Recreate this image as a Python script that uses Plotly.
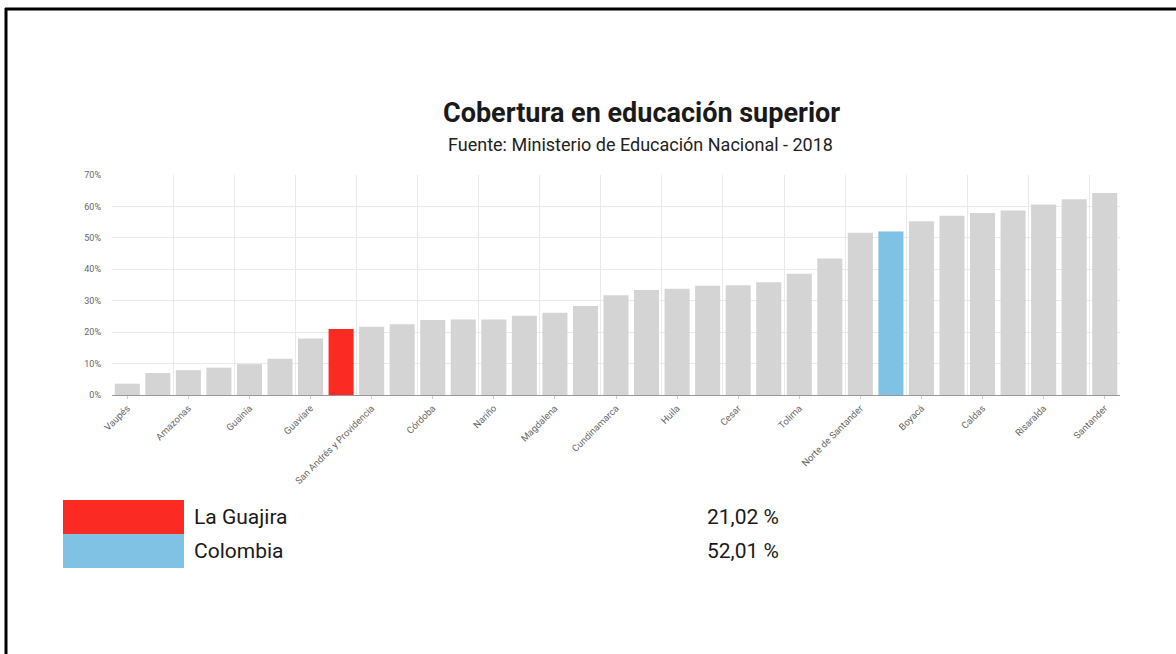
import plotly.graph_objects as go

# ---------------- data ----------------
departamentos = [
    "Vaupés", "Vichada", "Amazonas", "Putumayo", "Guainía", "Caquetá",
    "Guaviare", "La Guajira", "San Andrés y Providencia", "Arauca", "Córdoba",
    "Chocó", "Nariño", "Casanare", "Magdalena", "Sucre", "Cundinamarca",
    "Cauca", "Huila", "Meta", "Cesar", "Bolívar", "Tolima", "Valle del Cauca",
    "Norte de Santander", "Colombia", "Boyacá", "Atlántico", "Caldas",
    "Antioquia", "Risaralda", "Quindío", "Santander",
]
cobertura = [
    3.6, 7.0, 7.9, 8.7, 9.8, 11.5,
    18.0, 21.02, 21.7, 22.5, 23.9,
    24.0, 24.0, 25.2, 26.2, 28.3, 31.7,
    33.4, 33.8, 34.8, 34.9, 35.9, 38.6, 43.4,
    51.6, 52.01, 55.3, 57.0, 57.9,
    58.7, 60.6, 62.3, 64.3,
]
destacados = ["La Guajira", "Colombia"]
destacados_valores = ["21,02 %", "52,01 %"]
y_ticks = [0, 10, 20, 30, 40, 50, 60, 70]

titulo = "Cobertura en educación superior"
subtitulo = "Fuente: Ministerio de Educación Nacional - 2018"

# ---------------- styles ----------------
GRIS = "#d4d4d4"
ROJO = "#fb2a22"
AZUL = "#80c2e3"
color_dest = {"La Guajira": ROJO, "Colombia": AZUL}
colores = [color_dest.get(d, GRIS) for d in departamentos]

W, H = 1176, 654
# plot area in screen pixels (body margin removed below)
L, R, T, B = 112, 1120, 175, 395


def px(x):
    return (x - L) / (R - L)


def py(y):
    return (B - y) / (B - T)


idx = list(range(len(departamentos)))

fig = go.Figure(
    go.Bar(
        x=idx,
        y=cobertura,
        marker=dict(color=colores, line=dict(width=0)),
        hovertext=departamentos,
        hoverinfo="text+y",
    )
)

grid_pos = [-0.5] + [i + 0.5 for i in idx[1::2]]

fig.update_layout(
    width=W,
    height=H,
    margin=dict(l=L, r=W - R, t=T, b=H - B, pad=0),
    paper_bgcolor="white",
    plot_bgcolor="white",
    bargap=0.18,
    showlegend=False,
    font=dict(family="Roboto, Arial, sans-serif", color="#222"),
)

fig.update_xaxes(
    range=[-0.5, len(idx) - 0.5],
    tickmode="array",
    tickvals=idx[::2],
    ticktext=departamentos[::2],
    tickangle=-45,
    tickfont=dict(size=9.5, color="#666666"),
    ticks="outside",
    ticklen=3,
    tickcolor="#cccccc",
    showgrid=False,
    showline=True,
    linecolor="#999999",
    linewidth=1,
    zeroline=False,
    minor=dict(tickmode="array", tickvals=grid_pos, showgrid=True,
               gridcolor="#e9e9e9", gridwidth=1, ticks=""),
)
fig.update_yaxes(
    range=[0, 70],
    tickmode="array",
    tickvals=y_ticks,
    ticktext=[f"{v}%" for v in y_ticks],
    tickfont=dict(size=9, color="#666666"),
    showgrid=True,
    gridcolor="#e9e9e9",
    zeroline=False,
    ticks="",
    ticklabelstandoff=10,
)

# title & subtitle
fig.add_annotation(text=f"<b>{titulo}</b>", xref="paper", yref="paper",
                   x=px(641), y=py(113), showarrow=False,
                   font=dict(size=27, color="#1a1a1a"), xanchor="center", yanchor="middle")
fig.add_annotation(text=subtitulo, xref="paper", yref="paper",
                   x=px(640), y=py(144), showarrow=False,
                   font=dict(size=18, color="#222"), xanchor="center", yanchor="middle")

# legend block below the chart
row_top = [500, 534]
row_h = 34
for nombre, valor, top in zip(destacados, destacados_valores, row_top):
    fig.add_shape(type="rect", xref="paper", yref="paper",
                  x0=px(63), x1=px(184), y0=py(top), y1=py(top + row_h),
                  fillcolor=color_dest[nombre], line=dict(width=0), layer="above")
    fig.add_annotation(text=nombre, xref="paper", yref="paper",
                       x=px(192), y=py(top + row_h / 2), showarrow=False,
                       xanchor="left", yanchor="middle",
                       font=dict(size=21, color="#1a1a1a"))
    fig.add_annotation(text=valor, xref="paper", yref="paper",
                       x=px(705), y=py(top + row_h / 2), showarrow=False,
                       xanchor="left", yanchor="middle",
                       font=dict(size=21, color="#1a1a1a"))

# outer frame (top & left edges visible)
fig.add_shape(type="line", xref="paper", yref="paper",
              x0=px(5), x1=px(1200), y0=py(9), y1=py(9),
              line=dict(color="black", width=3))
fig.add_shape(type="line", xref="paper", yref="paper",
              x0=px(6), x1=px(6), y0=py(8), y1=py(700),
              line=dict(color="black", width=3))

fig.write_html(
    "out.html",
    config={"displayModeBar": False},
    post_script="document.body.style.margin='0';document.body.style.overflow='hidden';",
)
